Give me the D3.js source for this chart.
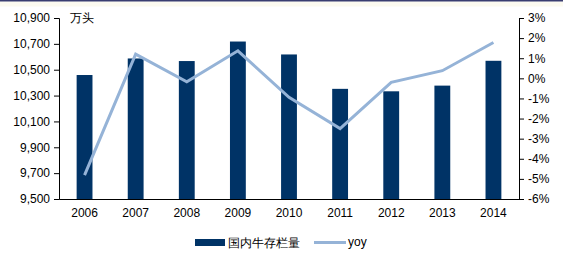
<!DOCTYPE html>
<html>
<head>
<meta charset="utf-8">
<style>
  body { margin: 0; background: #fff; }
  svg text { font-family: "Liberation Sans", Arial, sans-serif; fill: #000; }
</style>
</head>
<body>
<script src="https://d3js.org/d3.v7.min.js"></script>
<div id="chart"></div>
<script>
var years = ["2006", "2007", "2008", "2009", "2010", "2011", "2012", "2013", "2014"];
var stock = [10459, 10587, 10567, 10718, 10618, 10352, 10333, 10377, 10569];
var yoy = [-4.81, 1.2, -0.17, 1.37, -0.94, -2.5, -0.2, 0.38, 1.78];
var leftTicks = [9500, 9700, 9900, 10100, 10300, 10500, 10700, 10900];
var rightTicks = [-6, -5, -4, -3, -2, -1, 0, 1, 2, 3];

var width = 563, height = 262;
var plotL = 59, plotR = 519, plotT = 18, plotB = 199;

var svg = d3.select("#chart").append("svg")
    .attr("width", width).attr("height", height);

// top border strip + faint band under it
svg.append("rect").attr("x", 0).attr("y", 1.5).attr("width", width).attr("height", 5)
    .attr("fill", "#fcfaf0");
svg.append("rect").attr("x", 0).attr("y", 0).attr("width", width).attr("height", 1.5)
    .attr("fill", "#3a3d70");

var x = d3.scaleBand().domain(years).range([plotL, plotR]).paddingInner(0.69).paddingOuter(0.345);
var yL = d3.scaleLinear().domain([9500, 10900]).range([plotB, plotT]);
var yR = d3.scaleLinear().domain([-6, 3]).range([plotB, plotT]);

// bars
svg.selectAll("rect.bar").data(years).enter().append("rect")
    .attr("class", "bar")
    .attr("x", d => x(d))
    .attr("width", x.bandwidth())
    .attr("y", (d, i) => yL(stock[i]))
    .attr("height", (d, i) => plotB - yL(stock[i]))
    .attr("fill", "#003366");

// yoy line
var line = d3.line()
    .x((d, i) => x(years[i]) + x.bandwidth() / 2)
    .y(d => yR(d));
svg.append("path").datum(yoy)
    .attr("d", line)
    .attr("fill", "none")
    .attr("stroke", "#95b3d7")
    .attr("stroke-width", 3);

// left axis
var axL = svg.append("g").attr("transform", "translate(" + plotL + ",0)")
    .call(d3.axisLeft(yL).tickValues(leftTicks).tickSize(5).tickPadding(4)
        .tickFormat(d3.format(",")));
axL.select(".domain").attr("stroke", "#000");
axL.selectAll("line").attr("stroke", "#000");
axL.selectAll("text").style("font-size", "12px");

// right axis
var axR = svg.append("g").attr("transform", "translate(" + plotR + ",0)")
    .call(d3.axisRight(yR).tickValues(rightTicks).tickSize(5).tickPadding(4)
        .tickFormat(d => d + "%"));
axR.select(".domain").attr("stroke", "#000");
axR.selectAll("line").attr("stroke", "#000");
axR.selectAll("text").style("font-size", "12px");

// bottom axis
var axB = svg.append("g").attr("transform", "translate(0," + plotB + ")")
    .call(d3.axisBottom(x).tickSize(0).tickPadding(9));
axB.select(".domain").attr("stroke", "#000");
axB.selectAll("text").style("font-size", "12px");

// unit
svg.append("text").attr("x", 70).attr("y", 22).text("万头")
    .style("font-size", "12px");

// legend
var lg = svg.append("g");
lg.append("rect").attr("x", 195).attr("y", 239).attr("width", 30).attr("height", 7).attr("fill", "#003366");
lg.append("text").attr("x", 228).attr("y", 247).text("国内牛存栏量").style("font-size", "12px");
lg.append("line").attr("x1", 314).attr("x2", 346).attr("y1", 242.5).attr("y2", 242.5)
    .attr("stroke", "#95b3d7").attr("stroke-width", 3);
lg.append("text").attr("x", 348).attr("y", 246).text("yoy").style("font-size", "12px");
</script>
</body>
</html>
